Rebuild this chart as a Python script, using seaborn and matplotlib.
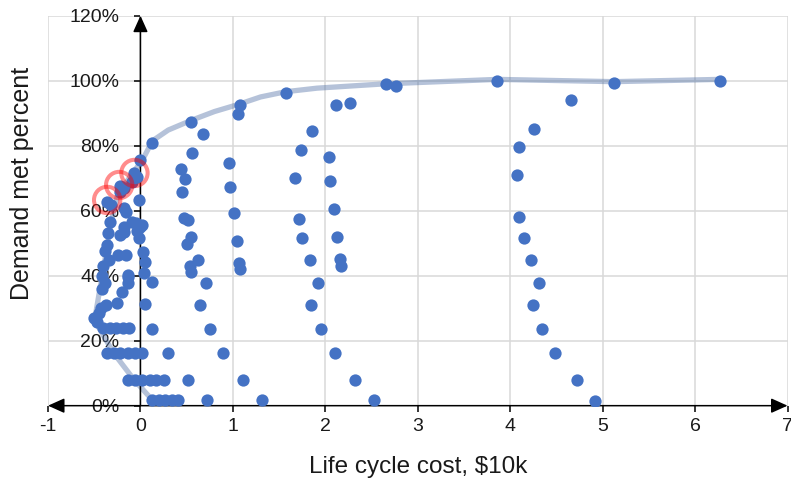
import numpy as np
import pandas as pd
import seaborn as sns
import matplotlib
matplotlib.use("Agg")
import matplotlib.pyplot as plt

# ---------------- data ----------------
# dense cluster near zero cost
near_cost = [0.13, 0.20, 0.27, 0.34, 0.41,
             -0.13, -0.06, 0.02, 0.10, 0.17, 0.25,
             -0.36, -0.29, -0.22, -0.14, -0.06, 0.02,
             -0.40, -0.33, -0.26, -0.19, -0.12, 0.13,
             -0.47, -0.50, -0.45, -0.43,
             -0.37, -0.25, 0.05,
             -0.20, -0.38, -0.14, -0.13, 0.12, -0.42, -0.42,
             0.04, -0.13, 0.05, -0.34, -0.16, -0.24, 0.03, -0.40, -0.38,
             -0.36, -0.22, -0.02, -0.04, -0.18, -0.33, -0.18, 0.00, -0.05, -0.09, 0.02, -0.35,
             -0.16, -0.18, -0.32, -0.02, -0.22, -0.18, -0.36, -0.22,
             -0.09, -0.04, -0.07, -0.01, 0.12]
near_pct = [1.7, 1.7, 1.7, 1.7, 1.7,
            8.0, 8.0, 8.0, 8.0, 8.0, 8.0,
            16.2, 16.2, 16.2, 16.2, 16.2, 16.2,
            23.8, 23.8, 23.8, 23.8, 24.0, 23.6,
            25.8, 27.0, 28.5, 30.0,
            31.0, 31.5, 31.3,
            35.1, 37.7, 37.7, 39.7, 38.2, 36.0, 40.0,
            40.7, 40.2, 44.3, 44.8, 46.4, 46.4, 47.2, 43.0, 47.5,
            49.4, 52.5, 51.5, 53.8, 53.4, 56.6, 55.1, 55.1, 56.1, 56.6, 55.6, 53.0,
            59.7, 60.7, 61.8, 63.3, 65.8, 66.9, 62.8, 67.6,
            68.9, 70.5, 71.7, 75.6, 80.7]

# column around cost 0.5 - 1.5
mid_cost = [0.55, 0.675, 0.56, 0.436, 0.48, 0.45, 0.47, 0.51, 0.55, 0.505, 0.625, 0.535,
            0.545, 0.71, 0.64, 0.75, 0.895, 0.51, 0.725, 0.295,
            1.08, 1.057, 0.963, 0.974, 1.007, 1.046, 1.07, 1.08, 1.11, 1.32, 1.57]
mid_pct = [87.3, 83.6, 77.8, 72.8, 69.8, 65.7, 57.7, 57.1, 51.8, 49.7, 44.9, 43.1,
           41.0, 37.8, 31.0, 23.6, 16.2, 8.0, 1.7, 16.2,
           92.4, 89.8, 74.6, 67.3, 59.4, 50.8, 44.0, 42.0, 8.0, 1.7, 96.3]

# columns around cost 2 and cost 4, plus the top-right points
far_cost = [1.67, 1.74, 1.86, 1.71, 1.75, 1.83, 1.92, 1.85, 1.95, 2.10, 2.32, 2.53,
            2.04, 2.05, 2.09, 2.13, 2.16, 2.17, 2.12, 2.27, 2.655, 2.76,
            3.86, 5.12, 6.27, 4.66, 4.26, 4.09, 4.07, 4.09, 4.15, 4.23, 4.31, 4.25,
            4.34, 4.49, 4.72, 4.92]
far_pct = [70.2, 78.8, 84.5, 57.5, 51.7, 44.9, 37.8, 31.0, 23.6, 16.2, 8.0, 1.7,
           76.5, 69.0, 60.4, 51.9, 45.2, 43.1, 92.4, 93.2, 99.0, 98.4,
           100.0, 99.3, 100.0, 94.1, 85.2, 79.6, 70.9, 58.2, 51.7, 44.9, 37.8, 30.9,
           23.5, 16.1, 8.0, 1.5]

# trade-off front line
front_cost = [0.13, -0.07, -0.29, -0.45, -0.49, -0.31, -0.25, -0.10, 0.02, 0.13,
              0.30, 0.55, 0.80, 1.06, 1.30, 1.57, 1.91, 2.63, 3.86, 5.12, 6.27]
front_pct = [1.7, 8.0, 16.2, 24.0, 27.4, 57.3, 64.5, 71.0, 75.5, 81.5,
             84.8, 87.8, 90.5, 92.7, 95.0, 96.6, 97.7, 99.0, 100.4, 99.7, 100.4]

# highlighted designs (red rings)
highlight_cost = [-0.36, -0.23, -0.065]
highlight_pct = [63.3, 67.9, 71.6]

x_ticks = [-1, 0, 1, 2, 3, 4, 5, 6, 7]
x_tick_labels = ["-1", "0", "1", "2", "3", "4", "5", "6", "7"]
y_ticks = [0, 20, 40, 60, 80, 100, 120]
y_tick_labels = ["0%", "20%", "40%", "60%", "80%", "100%", "120%"]

# ---------------- tables ----------------
points = pd.DataFrame({"cost": near_cost + mid_cost + far_cost,
                       "pct": near_pct + mid_pct + far_pct})
front = pd.DataFrame({"cost": front_cost, "pct": front_pct})
hl = pd.DataFrame({"cost": highlight_cost, "pct": highlight_pct})

# ---------------- style ----------------
sns.set_style("white")
plt.rcParams["font.family"] = ["Liberation Sans", "DejaVu Sans"]

fig = plt.figure(figsize=(7.91, 4.78), dpi=100)
ax = fig.add_axes([0.0607, 0.1513, 0.9349, 0.8159])

sns.lineplot(data=front, x="cost", y="pct", sort=False, estimator=None, ax=ax,
             color="#4F6FA5", alpha=0.42, lw=3.8, zorder=2)
sns.scatterplot(data=points, x="cost", y="pct", ax=ax, color="#4472C4",
                s=78, linewidth=0, zorder=3)
sns.scatterplot(data=hl, x="cost", y="pct", ax=ax, color="none",
                edgecolor="#FF0000", alpha=0.45, s=360, linewidth=2.9, zorder=4)

ax.set_xlim(x_ticks[0], x_ticks[-1])
ax.set_ylim(y_ticks[0], y_ticks[-1])
ax.set_xticks(x_ticks)
ax.set_xticklabels(x_tick_labels)
ax.set_yticks(y_ticks)
ax.set_yticklabels(y_tick_labels)

ax.grid(True, color="#D9D9D9", lw=1.1)
ax.set_axisbelow(True)

for side in ["left", "bottom"]:
    ax.spines[side].set_position(("data", 0))
for side in ax.spines:
    ax.spines[side].set_visible(False)

ax.tick_params(axis="y", direction="out", length=4.3, width=1.1, pad=10.8,
               labelsize=14, color="black", labelcolor="#1a1a1a", left=True)
ax.tick_params(axis="x", direction="out", length=4.3, width=1.1, pad=4.5,
               labelsize=14, color="black", labelcolor="#1a1a1a", bottom=True)

# axis lines with arrow heads
ax.annotate("", xy=(0, y_ticks[-1]), xytext=(0, y_ticks[0]), xycoords="data",
            arrowprops=dict(arrowstyle="-|>,head_length=1.0,head_width=0.45",
                            mutation_scale=10, lw=1.1, color="black",
                            shrinkA=0, shrinkB=0),
            annotation_clip=False, zorder=2.5)
ax.annotate("", xy=(x_ticks[-1], 0), xytext=(x_ticks[0], 0), xycoords="data",
            arrowprops=dict(arrowstyle="<|-|>,head_length=1.0,head_width=0.45",
                            mutation_scale=10, lw=1.1, color="black",
                            shrinkA=0, shrinkB=0),
            annotation_clip=False, zorder=2.5)

ax.set_xlabel("Life cycle cost, $10k", fontsize=17.5, color="#1a1a1a")
ax.set_ylabel("Demand met percent", fontsize=18, color="#1a1a1a")
ax.xaxis.label.set_va("center")
ax.yaxis.label.set_va("center")
ax.xaxis.set_label_coords(0.5, -0.157)
ax.yaxis.set_label_coords(-0.035, 0.57)

fig.savefig("out.png", dpi=100)
